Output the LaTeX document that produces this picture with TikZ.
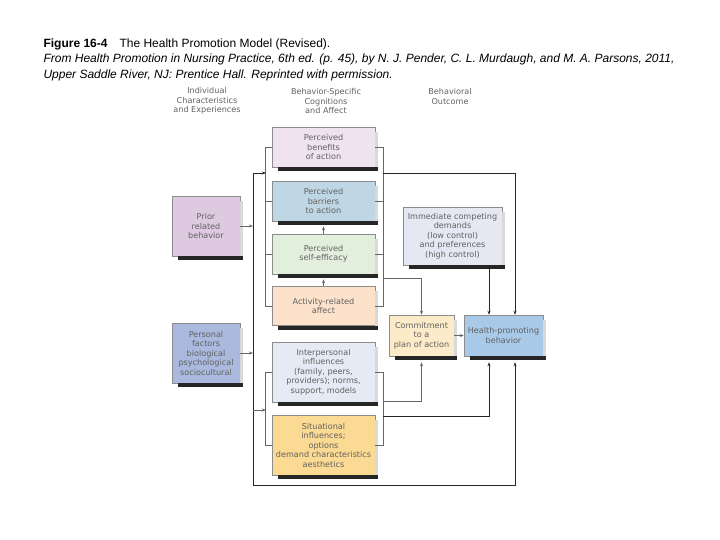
\documentclass[tikz,border=0pt]{standalone}
\usepackage{fontspec}
\setmainfont{Liberation Sans}
\newfontfamily\boxfont{DejaVu Sans}
\usepackage{tikz}
\usetikzlibrary{arrows.meta,calc}
\usepackage{xcolor}

\definecolor{benefitsc}{HTML}{EFE3F0}
\definecolor{barriersc}{HTML}{BFD6E4}
\definecolor{efficacyc}{HTML}{E3EFDD}
\definecolor{affectc}{HTML}{FCE2CB}
\definecolor{interpc}{HTML}{E4EBF4}
\definecolor{situc}{HTML}{FBDA93}
\definecolor{priorc}{HTML}{DDC9E0}
\definecolor{personalc}{HTML}{AAB9DD}
\definecolor{immedc}{HTML}{E5E7F3}
\definecolor{commitc}{HTML}{FCEBC8}
\definecolor{healthc}{HTML}{A9C9E8}

\begin{document}
\begin{tikzpicture}[x=1pt,y=-1pt,
  every node/.style={font=\boxfont\fontsize{8.1}{9.5}\selectfont, text=black!62},
  hbox/.style={draw=black!45, line width=0.5pt, align=center, inner sep=1pt},
  midbox/.style={hbox, minimum width=103pt},
  line/.style={draw=black!60, line width=0.6pt},
  arr/.style={line, -{Stealth[length=4pt,width=3pt]}}]
\useasboundingbox (0,0) rectangle (720,540);

  %% Caption
  \node[anchor=north west, align=left, text=black,
        font=\rmfamily\fontsize{12}{15.5}\selectfont] (caption) at (40,35)
    {\textbf{Figure 16-4}\quad The Health Promotion Model (Revised).\\
     \itshape From Health Promotion in Nursing Practice, 6th ed. (p. 45), by N. J. Pender, C. L. Murdaugh, and M. A. Parsons, 2011,\\
     \itshape Upper Saddle River, NJ: Prentice Hall. Reprinted with permission.};

  %% Column headings
  \node[align=center] (headind) at (207,101) {Individual\\Characteristics\\and Experiences};
  \node[align=center] (headcog) at (326,101) {Behavior-Specific\\Cognitions\\and Affect};
  \node[align=center] (headout) at (450,96.5) {Behavioral\\Outcome};

  %% Left column
  \node[hbox, fill=priorc, minimum width=68pt, minimum height=60pt] (prior) at (206,226)
    {Prior\\related\\behavior};
  \node[hbox, fill=personalc, minimum width=68pt, minimum height=60pt] (personal) at (206,353)
    {Personal\\factors\\biological\\psychological\\sociocultural};

  %% Middle column
  \node[midbox, fill=benefitsc, minimum height=40pt] (benefits) at (323.5,147)
    {Perceived\\benefits\\of action};
  \node[midbox, fill=barriersc, minimum height=40pt] (barriers) at (323.5,201)
    {Perceived\\barriers\\to action};
  \node[midbox, fill=efficacyc, minimum height=40pt] (efficacy) at (323.5,254)
    {Perceived\\self-efficacy};
  \node[midbox, fill=affectc, minimum height=39pt] (affect) at (323.5,306)
    {Activity-related\\affect};
  \node[midbox, fill=interpc, minimum height=60pt] (interp) at (323.5,372)
    {Interpersonal\\influences\\(family, peers,\\providers); norms,\\support, models};
  \node[midbox, fill=situc, minimum height=60pt] (situ) at (323.5,445)
    {Situational\\influences;\\options\\demand characteristics\\aesthetics};

  %% Right column
  \node[hbox, fill=immedc, minimum width=99pt, minimum height=58pt] (immediate) at (452.5,236)
    {Immediate competing\\demands\\(low control)\\and preferences\\(high control)};
  \node[hbox, fill=commitc, minimum width=65pt, minimum height=41pt] (commit) at (421.5,335.5)
    {Commitment\\to a\\plan of action};
  \node[hbox, fill=healthc, minimum width=79pt, minimum height=41pt] (health) at (503.5,335.5)
    {Health-promoting\\behavior};

  %% Shadows
  \foreach \n in {prior,personal,benefits,barriers,efficacy,affect,interp,situ,immediate,commit,health}{
    \fill[black!85] ([xshift=6pt]\n.south west) rectangle ([xshift=3pt,yshift=-4pt]\n.south east);
    \fill[black!15] ([yshift=-5pt]\n.north east) rectangle ([xshift=3pt]\n.south east);
  }

  %% Connector points
  \coordinate (trunkT) at (253,173);
  \coordinate (trunkB) at (253,485);
  \coordinate (lbU) at (266,173);
  \coordinate (trunkL) at (253,410);
  \coordinate (lbL) at (266,410);
  \coordinate (rbU) at (383,173);
  \coordinate (rbC) at (383,278);
  \coordinate (rbL1) at (383,401);
  \coordinate (rbL2) at (383,416);
  \coordinate (hN1) at ([xshift=-14.5pt]health.north);
  \coordinate (hN2) at ([xshift=11.5pt]health.north);
  \coordinate (hS1) at ([xshift=-14.5pt,yshift=-6pt]health.south);
  \coordinate (hS2) at ([xshift=11.5pt,yshift=-6pt]health.south);
  \coordinate (cS) at ([yshift=-6pt]commit.south);

  %% Brackets
  \draw[line] (benefits.west) -- ++(-6,0) |- (affect.west);
  \draw[line] (barriers.west) -- ++(-6,0);
  \draw[line] (efficacy.west) -- ++(-6,0);
  \draw[line] (interp.west) -- ++(-6,0) |- (situ.west);
  \draw[line] (benefits.east) -- ++(8,0) |- (affect.east);
  \draw[line] (barriers.east) -- ++(8,0);
  \draw[line] (efficacy.east) -- ++(8,0);
  \draw[line] (interp.east) -- ++(8,0) |- (situ.east);

  %% Arrows
  \draw[arr] (prior.east) -- (prior.east -| trunkT);
  \draw[arr] (personal.east) -- (personal.east -| trunkT);
  \draw[arr, draw=black!85] (trunkT) -- (trunkB) -| (hS2);
  \draw[arr, draw=black!85] (trunkT) -- (lbU);
  \draw[arr] (trunkL) -- (lbL);
  \draw[arr, draw=black!85] (rbU) -| (hN2);
  \draw[arr] (rbC) -| (commit.north);
  \draw[arr] (rbL1) -| (cS);
  \draw[arr, draw=black!85] (rbL2) -| (hS1);
  \draw[arr, draw=black!85] (immediate.south -| hN1) -- (hN1);
  \draw[arr] (commit) -- (health);
  \draw[arr] (efficacy.north) -- ([yshift=-5pt]barriers.south);
  \draw[arr] (affect.north) -- ([yshift=-5pt]efficacy.south);
\end{tikzpicture}
\end{document}
